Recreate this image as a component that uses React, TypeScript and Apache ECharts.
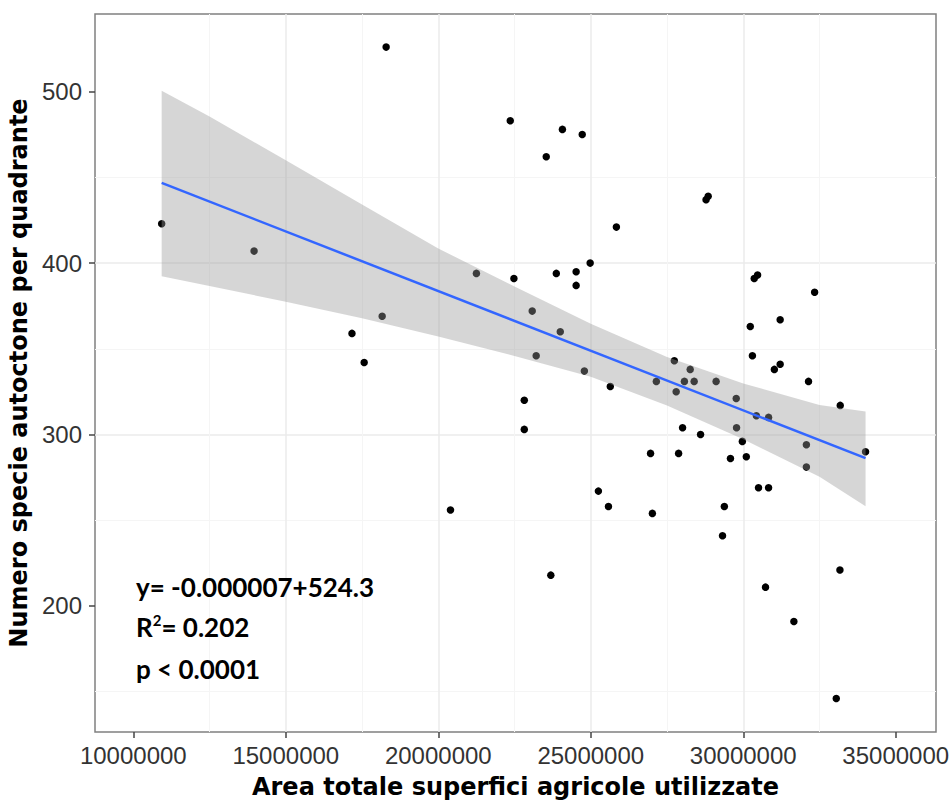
import React, { useEffect, useRef } from 'react';
import * as echarts from 'echarts';

// Scatter data: area (x) and number of native species per quadrant (y)
const areaX = [
  10930000, 13960000, 17170000, 17570000, 18160000, 18290000, 20400000, 21250000, 22360000, 22480000,
  22820000, 22820000, 23080000, 23210000, 23540000, 23690000, 23870000, 24000000, 24070000, 24520000,
  24520000, 24720000, 24790000, 24980000, 25250000, 25580000, 25640000, 25840000, 26960000, 27020000,
  27150000, 27740000, 27800000, 27880000, 28010000, 28070000, 28260000, 28390000, 28600000, 28780000,
  28850000, 29110000, 29320000, 29380000, 29580000, 29770000, 29780000, 29970000, 30100000, 30230000,
  30300000, 30360000, 30470000, 30500000, 30430000, 30730000, 30830000, 30830000, 31020000, 31210000,
  31210000, 31660000, 32070000, 32070000, 32140000, 32340000, 33050000, 33170000, 33180000, 34010000,
];
const speciesY = [
  423, 407, 359, 342, 369, 526, 256, 394, 483, 391,
  320, 303, 372, 346, 462, 218, 394, 360, 478, 395,
  387, 475, 337, 400, 267, 258, 328, 421, 289, 254,
  331, 343, 325, 289, 304, 331, 338, 331, 300, 437,
  439, 331, 241, 258, 286, 321, 304, 296, 287, 363,
  346, 391, 393, 269, 311, 211, 310, 269, 338, 341,
  367, 191, 294, 281, 331, 383, 146, 221, 317, 290,
];

// Linear fit line and its confidence band
const fitX = [10930000, 34010000];
const fitY = [446.8, 286.2];
const bandX = [10930000, 12500000, 15000000, 17500000, 20000000, 22500000, 25000000, 27500000, 30000000, 32500000, 34010000];
const bandUpper = [500.5, 485.5, 460.0, 434.2, 408.5, 386.4, 364.6, 345.2, 329.8, 317.2, 313.4];
const bandLower = [392.3, 386.7, 377.4, 367.8, 357.2, 345.8, 333.7, 316.9, 297.3, 275.4, 258.2];

// Axis ticks
const xTickValues = [10000000, 15000000, 20000000, 25000000, 30000000, 35000000];
const yTickValues = [200, 300, 400, 500];
const xRange = [8744000, 36320000];
const yRange = [126.5, 545.3];

const xTitle = 'Area totale superfici agricole utilizzate';
const yTitle = 'Numero specie autoctone per quadrante';
const eqText = 'y= -0.000007+524.3';
const r2Value = '= 0.202';
const pText = 'p < 0.0001';

const LABEL_FONT = '"Liberation Sans", Arial, sans-serif';
const TITLE_FONT = '"DejaVu Sans", "Liberation Sans", sans-serif';
const ANN_FONT = 'Lato, "Open Sans", sans-serif';

export default function App() {
  const ref = useRef<HTMLDivElement>(null);

  useEffect(() => {
    document.body.style.margin = '0';
    const chart = echarts.init(ref.current as HTMLDivElement, null, { renderer: 'svg' });
    const scatterData = areaX.map((x, i) => [x, speciesY[i]]);
    const bandData = bandX.map((x, i) => [x, bandLower[i], bandUpper[i]]);
    const fitData = fitX.map((x, i) => [x, fitY[i]]);

    chart.setOption({
      animation: false,
      backgroundColor: '#ffffff',
      grid: {
        left: 95,
        right: 14,
        top: 14,
        bottom: 70,
        show: true,
        borderColor: '#808080',
        borderWidth: 1.5,
        backgroundColor: 'transparent',
        outerBoundsMode: 'none',
      },
      xAxis: {
        type: 'value',
        min: xRange[0],
        max: xRange[1],
        name: xTitle,
        nameLocation: 'middle',
        nameGap: 43,
        nameTextStyle: { fontFamily: TITLE_FONT, fontWeight: 'bold', fontSize: 24, color: '#000' },
        axisLine: { show: false },
        axisTick: {
          show: true,
          length: 6,
          customValues: xTickValues,
          lineStyle: { color: '#444', width: 1.5 },
        },
        axisLabel: {
          customValues: xTickValues,
          formatter: (v: number) => String(Math.round(v)),
          fontFamily: LABEL_FONT,
          fontSize: 24,
          color: '#333',
          margin: 11,
        },
        splitLine: {
          show: true,
          showMinLine: false,
          showMaxLine: false,
          lineStyle: { color: '#EBEBEB', width: 1.5 },
        },
        minorTick: { show: false, splitNumber: 2 },
        minorSplitLine: { show: true, lineStyle: { color: '#F5F5F5', width: 1 } },
      },
      yAxis: {
        type: 'value',
        min: yRange[0],
        max: yRange[1],
        name: yTitle,
        nameLocation: 'middle',
        nameGap: 57,
        nameTextStyle: { fontFamily: TITLE_FONT, fontWeight: 'bold', fontSize: 24, color: '#000' },
        axisLine: { show: false },
        axisTick: {
          show: true,
          length: 6,
          customValues: yTickValues,
          lineStyle: { color: '#444', width: 1.5 },
        },
        axisLabel: {
          customValues: yTickValues,
          formatter: (v: number) => String(Math.round(v)),
          fontFamily: LABEL_FONT,
          fontSize: 24,
          color: '#333',
          margin: 13,
        },
        splitLine: {
          show: true,
          showMinLine: false,
          showMaxLine: false,
          lineStyle: { color: '#EBEBEB', width: 1.5 },
        },
        minorTick: { show: false, splitNumber: 2 },
        minorSplitLine: { show: true, lineStyle: { color: '#F5F5F5', width: 1 } },
      },
      series: [
        {
          type: 'scatter',
          data: scatterData,
          symbol: 'circle',
          symbolSize: 7.5,
          itemStyle: { color: '#000000', opacity: 1 },
          z: 2,
          silent: true,
        },
        {
          type: 'custom',
          data: bandData,
          encode: { x: 0, y: [1, 2] },
          z: 3,
          silent: true,
          renderItem: (params: any, api: any) => {
            if (params.dataIndex !== 0) return null;
            const top = bandX.map((x, i) => api.coord([x, bandUpper[i]]));
            const bottom = bandX.map((x, i) => api.coord([x, bandLower[i]])).reverse();
            return {
              type: 'polygon',
              shape: { points: top.concat(bottom) },
              style: { fill: 'rgba(153,153,153,0.4)', stroke: 'none' },
            };
          },
        },
        {
          type: 'line',
          data: fitData,
          showSymbol: false,
          symbol: 'none',
          lineStyle: { color: '#3366FF', width: 2.5 },
          z: 4,
          silent: true,
        },
      ],
      graphic: [
        {
          type: 'text',
          x: 136,
          y: 587,
          z: 20,
          style: {
            text: eqText,
            font: `bold 26px ${ANN_FONT}`,
            fill: '#000',
            align: 'left',
            verticalAlign: 'middle',
          },
        },
        {
          type: 'text',
          x: 136,
          y: 627,
          z: 20,
          style: {
            text: `{b|R}{s|2}{b|${r2Value}}`,
            fill: '#000',
            align: 'left',
            verticalAlign: 'middle',
            rich: {
              b: { font: `bold 26px ${ANN_FONT}`, fill: '#000', lineHeight: 30 },
              s: { font: `bold 15px ${ANN_FONT}`, fill: '#000', lineHeight: 16, verticalAlign: 'top' },
            },
          },
        },
        {
          type: 'text',
          x: 136,
          y: 669,
          z: 20,
          style: {
            text: pText,
            font: `bold 26px ${ANN_FONT}`,
            fill: '#000',
            align: 'left',
            verticalAlign: 'middle',
          },
        },
      ],
    });

    return () => chart.dispose();
  }, []);

  return (
    <div
      ref={ref}
      style={{ position: 'absolute', left: 0, top: 0, width: 950, height: 802, background: '#fff' }}
    />
  );
}
